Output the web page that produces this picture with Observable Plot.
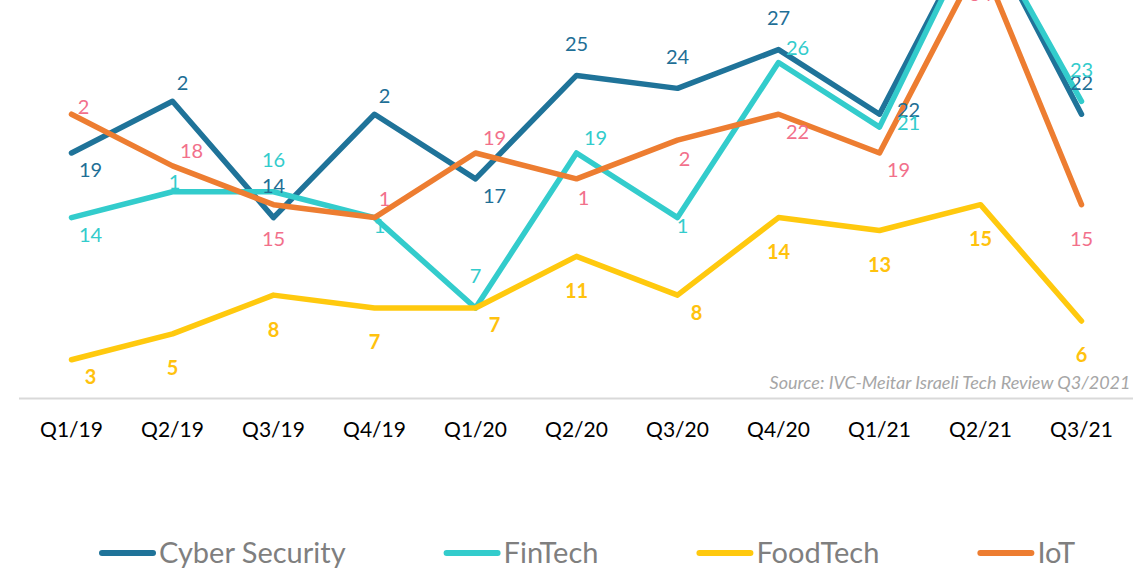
<!DOCTYPE html>
<html><head><meta charset="utf-8">
<script src="https://cdn.jsdelivr.net/npm/d3@7"></script>
<script src="https://cdn.jsdelivr.net/npm/@observablehq/plot@0.6"></script>
<style>
html,body{margin:0;padding:0;background:#fff;overflow:hidden;width:1142px;height:570px;}
#chart svg, #legend svg{display:block;}
</style>
</head><body><div id="chart"></div><div id="legend"></div>
<script>
// ---- data ----
const quarters = ["Q1/19","Q2/19","Q3/19","Q4/19","Q1/20","Q2/20","Q3/20","Q4/20","Q1/21","Q2/21","Q3/21"];
const seriesNames = ["Cyber Security","FinTech","FoodTech","IoT"];
const cyberValues    = [19,23,14,22,17,25,24,27,22,37,22];
const fintechValues  = [14,16,16,14,7,19,14,26,21,37,23];
const foodtechValues = [3,5,8,7,7,11,8,14,13,15,6];
const iotValues      = [22,18,15,14,19,17,20,22,19,34,15];
// data labels as they appear in the picture
const cyberLabels    = ["19","2","14","2","17","25","24","27","22","37","22"];
const fintechLabels  = ["14","1","16","1","7","19","1","26","21","37","23"];
const foodtechLabels = ["3","5","8","7","7","11","8","14","13","15","6"];
const iotLabels      = ["2","18","15","1","19","1","2","22","19","34","15"];
const sourceText = "Source: IVC-Meitar Israeli Tech Review Q3/2021";

// ---- label placement (like Excel's label position setting) ----
const cyberPos    = ["BR","tr","T","tr","BR","T","T","T","R","T","T"];
const fintechPos  = ["BR","c","T","cb","T","TR","cb","TR","R","T","T"];
const foodtechPos = ["BR","B","B","B","BR","B","BR","B","B","B","B"];
const iotPos      = ["rs","TR","B","tr","TR","rb","rb","BR","BR","B","B"];
const posOffsets = {T:[0,-31],B:[0,35],TR:[19,-14],BR:[19,18],R:[29,-4],tr:[10,-18],c:[2,-9],cb:[5,9],rs:[12,-7],rb:[7,20]};

// ---- styles ----
const lineColors  = ["#1f7399","#33cccc","#ffc90e","#ed7d31"];
const labelColors = ["#1f6f96","#33cccc","#ffc20e","#f2708b"];
const labelWeights = ["normal","normal","bold","normal"];

const valueArrays = [cyberValues, fintechValues, foodtechValues, iotValues];
const labelArrays = [cyberLabels, fintechLabels, foodtechLabels, iotLabels];
const posArrays   = [cyberPos, fintechPos, foodtechPos, iotPos];

const rows = [];
seriesNames.forEach((name, si) => {
  valueArrays[si].forEach((v, i) => rows.push({series: name, si, q: quarters[i], v, label: labelArrays[si][i], pos: posArrays[si][i]}));
});

const FONT = "Lato, 'Open Sans', sans-serif";
const marks = [
  Plot.ruleY([0], {stroke: "#d9d9d9", strokeWidth: 2})
];
seriesNames.forEach((name, si) => {
  marks.push(Plot.line(rows.filter(r => r.si === si), {
    x: "q", y: "v", stroke: lineColors[si], strokeWidth: 5.5,
    strokeLinecap: "round", strokeLinejoin: "round", clip: true
  }));
});
seriesNames.forEach((name, si) => {
  Object.keys(posOffsets).forEach(code => {
    const sub = rows.filter(r => r.si === si && r.pos === code);
    if (!sub.length) return;
    marks.push(Plot.text(sub, {
      x: "q", y: "v", text: "label", fill: labelColors[si], fontWeight: labelWeights[si],
      fontSize: 20, dx: posOffsets[code][0], dy: posOffsets[code][1],
      textAnchor: "middle", lineAnchor: "middle", clip: true
    }));
  });
});
marks.push(Plot.text([sourceText], {
  text: d => d, frameAnchor: "bottom-right", textAnchor: "end", lineAnchor: "middle",
  dx: -3, dy: -15, fontSize: 18, fontStyle: "italic", fill: "#a6a6a6"
}));
marks.push(Plot.axisX({tickSize: 0, tickPadding: 24, fontSize: 21, fill: "#000", label: null}));

const chart = Plot.plot({
  width: 1142, height: 470,
  marginTop: 0, marginBottom: 72, marginLeft: 19, marginRight: 9,
  style: {fontFamily: FONT, background: "white", overflow: "hidden"},
  x: {type: "point", domain: quarters, padding: 0.5, axis: null},
  y: {domain: [0, 30.8], axis: null},
  marks
});
document.getElementById("chart").appendChild(chart);

// ---- legend ----
const leg = d3.select("#legend").append("svg").attr("width", 1142).attr("height", 100)
  .style("font-family", FONT);
let xCursor = 99;
seriesNames.forEach((name, si) => {
  const g = leg.append("g");
  g.append("line").attr("x1", xCursor + 3).attr("x2", xCursor + 54).attr("y1", 83).attr("y2", 83)
    .attr("stroke", lineColors[si]).attr("stroke-width", 6).attr("stroke-linecap", "round");
  const t = g.append("text").attr("x", xCursor + 60).attr("y", 83).attr("dy", "0.35em")
    .attr("font-size", 29).attr("fill", "#7f7f7f").text(name);
  const w = t.node().getComputedTextLength();
  xCursor += 60 + w + 98;
});
</script></body></html>
